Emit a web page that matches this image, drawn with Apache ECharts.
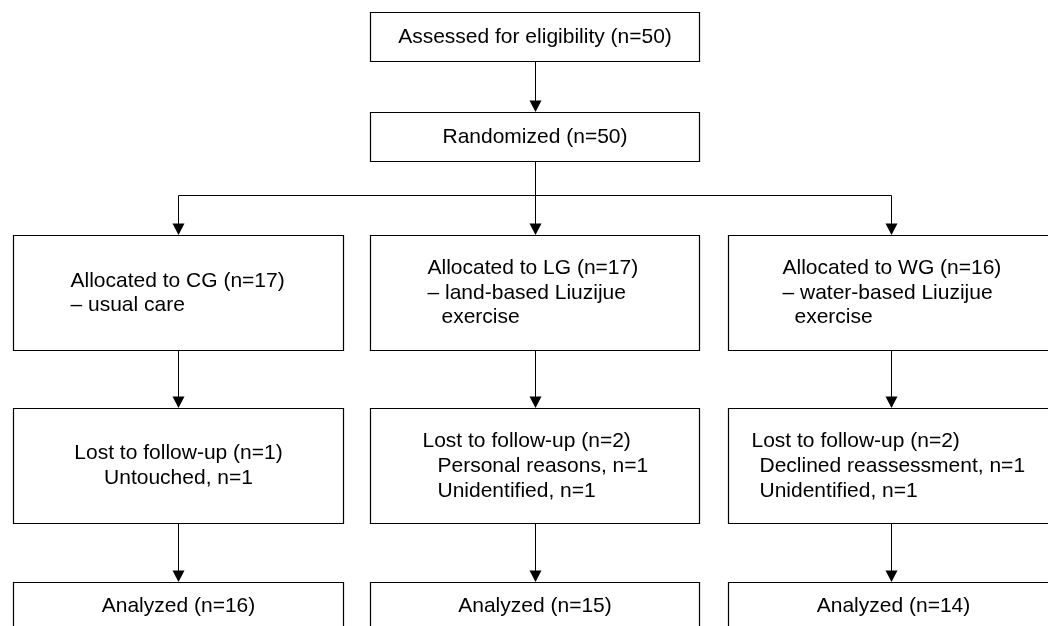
<!DOCTYPE html>
<html>
<head>
<meta charset="utf-8">
<script src="https://cdn.jsdelivr.net/npm/echarts@6/dist/echarts.min.js"></script>
<style>
  html, body { margin: 0; padding: 0; background: #fff; }
  #chart { width: 1048px; height: 626px; }
</style>
</head>
<body>
<div id="chart"></div>
<script>
// ---- Data (flow counts and texts) ----
const assessedN = 50;
const randomizedN = 50;
const groups = ['CG', 'LG', 'WG'];
const allocatedN = [17, 17, 16];
const allocatedDesc = [
  ['– usual care'],
  ['– land-based Liuzijue', 'exercise'],
  ['– water-based Liuzijue', 'exercise']
];
const lostN = [1, 2, 2];
const lostReasons = [
  ['Untouched, n=1'],
  ['Personal reasons, n=1', 'Unidentified, n=1'],
  ['Declined reassessment, n=1', 'Unidentified, n=1']
];
const analyzedN = [16, 15, 14];

// ---- Layout (pixel space of the diagram) ----
const colLeft = [13, 370, 728];
const colRight = [343, 699, 1058];
const colCenter = [178.5, 535.5, 891.5];
const rowTop = { assessed: 12, randomized: 112, allocated: 235, lost: 408, analyzed: 582 };
const rowBottom = { assessed: 61, randomized: 161, allocated: 350, lost: 523, analyzed: 660 };
const branchY = 195.5;
const FONT = '21px "Liberation Sans", Arial, sans-serif';

// build nodes
const nodes = [];
nodes.push({ box: [370, rowTop.assessed, 699, rowBottom.assessed], align: 'center', lh: 25,
  lines: [{ t: 'Assessed for eligibility (n=' + assessedN + ')' }] });
nodes.push({ box: [370, rowTop.randomized, 699, rowBottom.randomized], align: 'center', lh: 25,
  lines: [{ t: 'Randomized (n=' + randomizedN + ')' }] });

const allocIndent = [[57, 57], [57, 57, 71], [54, 54, 66]];
groups.forEach((g, i) => {
  const ls = [{ t: 'Allocated to ' + g + ' (n=' + allocatedN[i] + ')' }]
    .concat(allocatedDesc[i].map(t => ({ t })));
  ls.forEach((l, k) => { l.dx = allocIndent[i][k]; });
  nodes.push({ box: [colLeft[i], rowTop.allocated, colRight[i], rowBottom.allocated],
    align: 'left', lh: 24.5, lines: ls });
});

const lostIndent = [null, [52, 67, 67], [23, 31, 31]];
groups.forEach((g, i) => {
  const ls = [{ t: 'Lost to follow-up (n=' + lostN[i] + ')' }]
    .concat(lostReasons[i].map(t => ({ t })));
  if (lostIndent[i]) ls.forEach((l, k) => { l.dx = lostIndent[i][k]; });
  nodes.push({ box: [colLeft[i], rowTop.lost, colRight[i], rowBottom.lost],
    align: lostIndent[i] ? 'left' : 'center', lh: 25, lines: ls });
});

groups.forEach((g, i) => {
  nodes.push({ box: [colLeft[i], rowTop.analyzed, colRight[i], rowBottom.analyzed],
    align: 'center', lh: 25, fixedMid: rowTop.analyzed + 24,
    lines: [{ t: 'Analyzed (n=' + analyzedN[i] + ')' }] });
});

// connectors: [points, hasArrow]
const edges = [];
edges.push({ pts: [[535.5, rowBottom.assessed], [535.5, rowTop.randomized]], arrow: true });
edges.push({ pts: [[535.5, rowBottom.randomized], [535.5, branchY]], arrow: false });
edges.push({ pts: [[colCenter[0], branchY], [colCenter[2], branchY]], arrow: false });
colCenter.forEach(cx => {
  edges.push({ pts: [[cx, branchY], [cx, rowTop.allocated]], arrow: true });
  edges.push({ pts: [[cx, rowBottom.allocated], [cx, rowTop.lost]], arrow: true });
  edges.push({ pts: [[cx, rowBottom.lost], [cx, rowTop.analyzed]], arrow: true });
});

const chart = echarts.init(document.getElementById('chart'), null, { renderer: 'canvas' });

const option = {
  backgroundColor: '#ffffff',
  animation: false,
  grid: { left: 0, right: 0, top: 0, bottom: 0 },
  xAxis: { type: 'value', min: 0, max: 1048, show: false },
  yAxis: { type: 'value', min: 0, max: 626, inverse: true, show: false },
  series: [
    {
      type: 'custom',
      name: 'connectors',
      coordinateSystem: 'cartesian2d',
      clip: false,
      data: edges.map((e, i) => [e.pts[0][0], e.pts[0][1], i]),
      renderItem: function (params, api) {
        const e = edges[params.dataIndex];
        const pts = e.pts.map(p => api.coord(p));
        const children = [];
        const end = pts[pts.length - 1];
        const linePts = pts.slice();
        if (e.arrow) {
          linePts[linePts.length - 1] = [end[0], end[1] - 10];
        }
        children.push({
          type: 'polyline',
          shape: { points: linePts },
          style: { stroke: '#000', lineWidth: 1, fill: null }
        });
        if (e.arrow) {
          children.push({
            type: 'polygon',
            shape: { points: [[end[0] - 6, end[1] - 11.5], [end[0] + 6, end[1] - 11.5], [end[0], end[1]]] },
            style: { fill: '#000', stroke: null }
          });
        }
        return { type: 'group', children };
      }
    },
    {
      type: 'custom',
      name: 'boxes',
      coordinateSystem: 'cartesian2d',
      clip: false,
      data: nodes.map((n, i) => [n.box[0], n.box[1], i]),
      renderItem: function (params, api) {
        const n = nodes[params.dataIndex];
        const p1 = api.coord([n.box[0], n.box[1]]);
        const p2 = api.coord([n.box[2], n.box[3]]);
        const x1 = Math.round(p1[0]) + 0.5, y1 = Math.round(p1[1]) + 0.5;
        const x2 = Math.round(p2[0]) + 0.5, y2 = Math.round(p2[1]) + 0.5;
        const children = [{
          type: 'rect',
          shape: { x: x1, y: y1, width: x2 - x1, height: y2 - y1 },
          style: { fill: '#fff', stroke: '#000', lineWidth: 1.2 }
        }];
        const cy = n.fixedMid != null ? api.coord([0, n.fixedMid])[1] : (y1 + y2) / 2;
        const count = n.lines.length;
        n.lines.forEach((l, k) => {
          const y = cy + (k - (count - 1) / 2) * n.lh;
          const x = n.align === 'center' ? (x1 + x2) / 2 : x1 + l.dx;
          children.push({
            type: 'text',
            x: x, y: y,
            style: {
              text: l.t, font: FONT, fill: '#000',
              align: n.align === 'center' ? 'center' : 'left',
              verticalAlign: 'middle'
            }
          });
        });
        return { type: 'group', children };
      }
    }
  ]
};
chart.setOption(option);
</script>
</body>
</html>
